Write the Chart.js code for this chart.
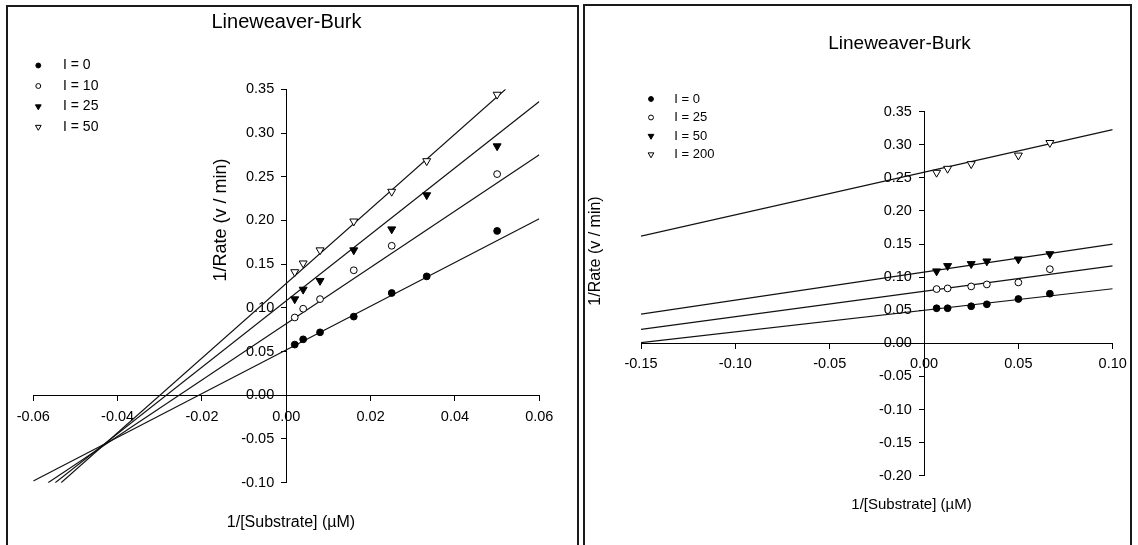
<!DOCTYPE html>
<html>
<head>
<meta charset="utf-8">
<title>Lineweaver-Burk</title>
<script src="https://cdn.jsdelivr.net/npm/chart.js@4.4.1/dist/chart.umd.min.js"></script>
<style>
  html, body { margin: 0; padding: 0; background: #fff; }
  body { width: 1138px; height: 545px; position: relative; overflow: hidden; }
  canvas { position: absolute; top: 0; }
  #leftChart { left: 0; }
  #rightChart { left: 580px; }
  .frame { position: absolute; border: 2px solid #1a1a1a; pointer-events: none; }
</style>
</head>
<body>
<canvas id="leftChart" width="580" height="545"></canvas>
<canvas id="rightChart" width="558" height="545"></canvas>
<div class="frame" style="left:6px; top:5px; width:569px; height:560px;"></div>
<div class="frame" style="left:583px; top:4px; width:545px; height:560px;"></div>
<script>
const FONT = '"Liberation Sans", Arial, sans-serif';

// ---- left panel: I = 0, 10, 25, 50 ----
const leftLabels = ['I = 0', 'I = 10', 'I = 25', 'I = 50'];
const leftX = [0.002, 0.004, 0.008, 0.016, 0.025, 0.0333, 0.05];
const leftI0 = [0.058, 0.064, 0.072, 0.090, 0.117, 0.136, 0.188];
const leftI10 = [0.089, 0.099, 0.110, 0.143, 0.171, null, 0.253];
const leftI25 = [0.110, 0.121, 0.131, 0.166, 0.190, 0.229, 0.285];
const leftI50 = [0.141, 0.151, 0.166, 0.199, 0.233, 0.268, 0.344];
// fitted lines, start and end points
const leftFitX = [[-0.06, 0.06], [-0.0565, 0.06], [-0.0548, 0.06], [-0.0534, 0.052]];
const leftFitY = [[-0.098, 0.202], [-0.10, 0.275], [-0.10, 0.336], [-0.10, 0.35]];
const leftXTicks = [-0.06, -0.04, -0.02, 0, 0.02, 0.04, 0.06];
const leftYTicks = [-0.10, -0.05, 0, 0.05, 0.10, 0.15, 0.20, 0.25, 0.30, 0.35];

// ---- right panel: I = 0, 25, 50, 200 ----
const rightLabels = ['I = 0', 'I = 25', 'I = 50', 'I = 200'];
const rightX = [0.00667, 0.0125, 0.025, 0.0333, 0.05, 0.0667];
const rightI0 = [0.053, 0.053, 0.056, 0.059, 0.067, 0.075];
const rightI25 = [0.082, 0.083, 0.086, 0.089, 0.092, 0.112];
const rightI50 = [0.109, 0.117, 0.120, 0.124, 0.127, 0.135];
const rightI200 = [0.258, 0.264, 0.271, null, 0.284, 0.303];
const rightFitX = [[-0.15, 0.10], [-0.15, 0.10], [-0.15, 0.10], [-0.15, 0.10]];
const rightFitY = [[0.001, 0.0825], [0.021, 0.117], [0.044, 0.150], [0.162, 0.323]];
const rightXTicks = [-0.15, -0.10, -0.05, 0, 0.05, 0.10];
const rightYTicks = [-0.20, -0.15, -0.10, -0.05, 0, 0.05, 0.10, 0.15, 0.20, 0.25, 0.30, 0.35];

// filled circle, open circle, filled triangle down, open triangle down
const markers = [
    { style: 'circle', fill: '#000', rot: 0, r: 3.4 },
    { style: 'circle', fill: '#fff', rot: 0, r: 3.4 },
    { style: 'triangle', fill: '#000', rot: 180, r: 4.6 },
    { style: 'triangle', fill: '#fff', rot: 180, r: 4.6 }
];

function buildDatasets(xs, series, labels, fitX, fitY) {
    const sets = [];
    series.forEach((ys, i) => {
        const m = markers[i];
        sets.push({
            label: labels[i],
            data: xs.map((x, j) => ({ x: x, y: ys[j] })).filter(p => p.y !== null),
            showLine: false,
            pointStyle: m.style,
            pointRotation: m.rot,
            pointRadius: m.r,
            pointBackgroundColor: m.fill,
            pointBorderColor: '#000',
            pointBorderWidth: 1,
            order: 0
        });
        sets.push({
            label: labels[i] + ' fit',
            isFit: true,
            data: fitX[i].map((x, j) => ({ x: x, y: fitY[i][j] })),
            showLine: true,
            borderColor: '#111',
            borderWidth: 1.2,
            pointRadius: 0,
            order: 1
        });
    });
    return sets;
}

// axes cross at zero; y labels of a crossing axis sit right on the line,
// so a few trailing spaces push them off it
function axis(id, ticksArr, crossAt, pad) {
    const gap = id === 'y' ? '   ' : '';
    return {
        type: 'linear',
        axis: id,
        position: crossAt,
        min: ticksArr[0],
        max: ticksArr[ticksArr.length - 1],
        afterBuildTicks: s => { s.ticks = ticksArr.map(v => ({ value: v })); },
        grid: { drawOnChartArea: false, drawTicks: true, tickLength: 5, color: '#000', lineWidth: 1 },
        border: { display: true, color: '#000', width: 1 },
        ticks: {
            autoSkip: false,
            maxRotation: 0,
            padding: pad,
            color: '#000',
            font: { family: FONT, size: 14.5 },
            callback: v => v.toFixed(2) + gap
        }
    };
}

function drawMarker(ctx, ds, x, y, r) {
    if (Chart.helpers && Chart.helpers.drawPoint) {
        Chart.helpers.drawPoint(ctx, { pointStyle: ds.pointStyle, rotation: ds.pointRotation, radius: r, borderWidth: 1 }, x, y);
        return;
    }
    ctx.beginPath();
    if (ds.pointStyle === 'circle') {
        ctx.arc(x, y, r, 0, Math.PI * 2);
    } else {
        ctx.moveTo(x, y + r);
        ctx.lineTo(x - r * 0.87, y - r / 2);
        ctx.lineTo(x + r * 0.87, y - r / 2);
        ctx.closePath();
    }
    ctx.fill();
    ctx.stroke();
}

// titles, axis titles and legend placed where the original figure has them
function panelText(cfg) {
    return {
        id: 'panelText',
        afterDraw(chart) {
            const ctx = chart.ctx;
            ctx.save();
            ctx.fillStyle = '#000';
            ctx.textBaseline = 'middle';
            ctx.textAlign = 'center';
            ctx.font = cfg.titleSize + 'px ' + FONT;
            ctx.fillText(cfg.title, cfg.titleX, cfg.titleY);
            ctx.font = cfg.xTitleSize + 'px ' + FONT;
            ctx.fillText(cfg.xTitle, cfg.xTitleX, cfg.xTitleY);
            ctx.save();
            ctx.translate(cfg.yTitleX, cfg.yTitleY);
            ctx.rotate(-Math.PI / 2);
            ctx.font = cfg.yTitleSize + 'px ' + FONT;
            ctx.fillText(cfg.yTitle, 0, 0);
            ctx.restore();

            ctx.font = cfg.legendSize + 'px ' + FONT;
            ctx.textAlign = 'left';
            let row = 0;
            chart.data.datasets.forEach(ds => {
                if (ds.isFit) return;
                const y = cfg.legendY + row * cfg.legendGap;
                ctx.fillStyle = ds.pointBackgroundColor;
                ctx.strokeStyle = '#000';
                ctx.lineWidth = 1;
                drawMarker(ctx, ds, cfg.legendX, y, ds.pointRadius * 0.72);
                ctx.fillStyle = '#000';
                ctx.fillText(ds.label, cfg.legendTextX, y);
                row++;
            });
            ctx.restore();
        }
    };
}

function makeChart(id, datasets, xTicks, yTicks, padding, xPad, yPad, text) {
    return new Chart(document.getElementById(id), {
        type: 'scatter',
        data: { datasets: datasets },
        options: {
            responsive: false,
            animation: false,
            events: [],
            layout: { padding: padding },
            scales: {
                x: axis('x', xTicks, { y: 0 }, xPad),
                y: axis('y', yTicks, { x: 0 }, yPad)
            },
            plugins: {
                legend: { display: false },
                title: { display: false },
                tooltip: { enabled: false }
            }
        },
        plugins: [panelText(text)]
    });
}

makeChart('leftChart',
    buildDatasets(leftX, [leftI0, leftI10, leftI25, leftI50], leftLabels, leftFitX, leftFitY),
    leftXTicks, leftYTicks,
    { left: 33.3, right: 40.7, top: 89.3, bottom: 62.3 }, 8, 8,
    {
        title: 'Lineweaver-Burk', titleSize: 20, titleX: 286.5, titleY: 22,
        xTitle: '1/[Substrate] (µM)', xTitleSize: 16, xTitleX: 291, xTitleY: 523,
        yTitle: '1/Rate (v / min)', yTitleSize: 18, yTitleX: 221, yTitleY: 220,
        legendSize: 14, legendX: 38.3, legendTextX: 63, legendY: 65.5, legendGap: 20.5
    });

makeChart('rightChart',
    buildDatasets(rightX, [rightI0, rightI25, rightI50, rightI200], rightLabels, rightFitX, rightFitY),
    rightXTicks, rightYTicks,
    { left: 61, right: 25.3, top: 111.7, bottom: 69.3 }, 7, 6,
    {
        title: 'Lineweaver-Burk', titleSize: 19, titleX: 319.5, titleY: 43.5,
        xTitle: '1/[Substrate] (µM)', xTitleSize: 15, xTitleX: 331.5, xTitleY: 505,
        yTitle: '1/Rate (v / min)', yTitleSize: 16, yTitleX: 15.5, yTitleY: 251,
        legendSize: 13, legendX: 71, legendTextX: 94.3, legendY: 99, legendGap: 18.5
    });
</script>
</body>
</html>
